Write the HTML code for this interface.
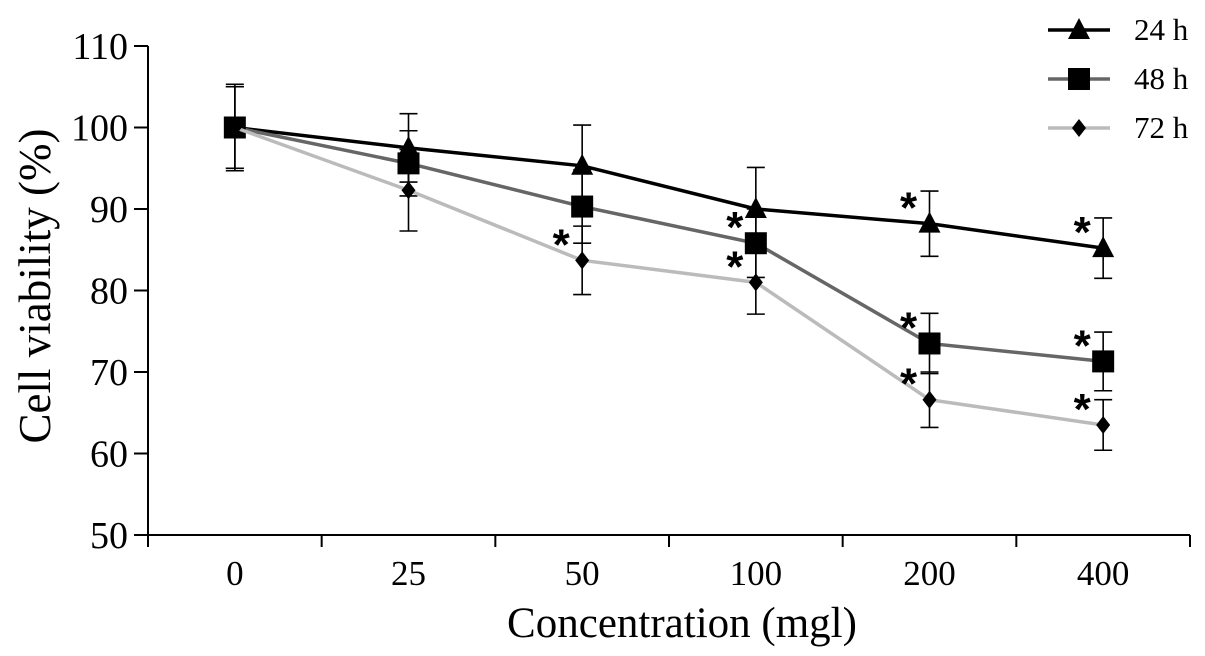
<!DOCTYPE html>
<html><head><meta charset="utf-8">
<style>
body{margin:0;background:#fff;}
svg{display:block;font-family:"Liberation Serif",serif;}
</style></head>
<body>
<svg id="chart" width="1205" height="656"></svg>
<script>
const categories=["0","25","50","100","200","400"];
const yTicks=[50,60,70,80,90,100,110];
const s24=[100,97.5,95.3,90,88.2,85.2];
const e24=[5.3,4.2,5,5.1,4,3.7];
const s48=[100,95.6,90.3,85.8,73.5,71.3];
const e48=[5,4,4.5,4.2,3.7,3.6];
const s72=[100,92.3,83.7,81,66.6,63.5];
const e72=[5,5,4.2,3.9,3.4,3.1];
const star24=[false,false,false,false,true,true];
const star48=[false,false,false,true,true,true];
const star72=[false,false,true,true,true,true];

const NS="http://www.w3.org/2000/svg";
const svg=document.getElementById('chart');
const x0=148,x1=1190,yBase=535,yTop=46;
const band=(x1-x0)/categories.length;
const X=i=>x0+band*(i+0.5);
const Y=v=>yBase-(v-50)/60*(yBase-yTop);
function el(t,a,parent){const e=document.createElementNS(NS,t);for(const k in a)e.setAttribute(k,a[k]);(parent||svg).appendChild(e);return e;}

let g=el('g',{});


el('line',{x1:x0,y1:yTop,x2:x0,y2:yBase,stroke:'#000','stroke-width':2},g);
yTicks.forEach(v=>{
  el('line',{x1:x0-14,y1:Y(v),x2:x0,y2:Y(v),stroke:'#000','stroke-width':2},g);
  const t=el('text',{x:x0-20,y:Y(v)+13,'text-anchor':'end','font-size':38},g);
  
  
  t.textContent=v;
});
g=el('g',{});


el('line',{x1:x0,y1:yBase,x2:x1,y2:yBase,stroke:'#000','stroke-width':2},g);
for(let i=0;i<=categories.length;i++){
  el('line',{x1:x0+band*i,y1:yBase,x2:x0+band*i,y2:yBase+12,stroke:'#000','stroke-width':2},g);
}
categories.forEach((c,i)=>{
  const t=el('text',{x:X(i),y:yBase+50,'text-anchor':'middle','font-size':35},g);
  
  
  t.textContent=c;
});
let t=el('text',{x:682,y:637,'text-anchor':'middle','font-size':43});


t.textContent='Concentration (mgl)';
t=el('text',{x:0,y:0,'text-anchor':'middle','font-size':45,transform:'translate(50,286) rotate(-90)'});


t.textContent='Cell viability (%)';

function marker(type,x,y,parent){
  if(type==='tri') return el('polygon',{points:`${x},${y-12} ${x-11},${y+9} ${x+11},${y+9}`,fill:'#000'},parent);
  if(type==='sq') return el('rect',{x:x-11,y:y-11,width:22,height:22,fill:'#000'},parent);
  return el('polygon',{points:`${x},${y-9} ${x+7},${y} ${x},${y+9} ${x-7},${y}`,fill:'#000'},parent);
}
function series(name,vals,errs,stars,color,type){
  const sg=el('g',{});
  
  
  vals.forEach((v,i)=>{
    const xe=X(i);
    el('line',{x1:xe,y1:Y(v+errs[i]),x2:xe,y2:Y(v-errs[i]),stroke:'#000','stroke-width':1.6},sg);
    el('line',{x1:xe-9,y1:Y(v+errs[i]),x2:xe+9,y2:Y(v+errs[i]),stroke:'#000','stroke-width':1.6},sg);
    el('line',{x1:xe-9,y1:Y(v-errs[i]),x2:xe+9,y2:Y(v-errs[i]),stroke:'#000','stroke-width':1.6},sg);
  });
  el('polyline',{points:vals.map((v,i)=>X(i)+','+Y(v)).join(' '),fill:'none',stroke:color,'stroke-width':3.5},sg);
  vals.forEach((v,i)=>{
    const m=marker(type,X(i),Y(v),sg);
    
    
    if(stars[i]){
      const s=el('text',{x:X(i)-21,y:Y(v)-1,'text-anchor':'middle','font-size':44,'font-weight':'bold','font-family':'Liberation Sans, sans-serif'},sg);
      
      
      s.textContent='*';
    }
  });
}
series('24h',s24,e24,star24,'#000','tri');
series('48h',s48,e48,star48,'#666','sq');
series('72h',s72,e72,star72,'#bbb','dia');

const legend=[['24 h','#000','tri',30],['48 h','#666','sq',79],['72 h','#bbb','dia',128]];
legend.forEach(l=>{
  const lg=el('g',{});
  
  
  el('line',{x1:1048,y1:l[3],x2:1110,y2:l[3],stroke:l[1],'stroke-width':3.5},lg);
  marker(l[2],1079,l[3],lg);
  const tt=el('text',{x:1134,y:l[3]+10,'font-size':31},lg);
  tt.textContent=l[0];
});
</script>
</body></html>
